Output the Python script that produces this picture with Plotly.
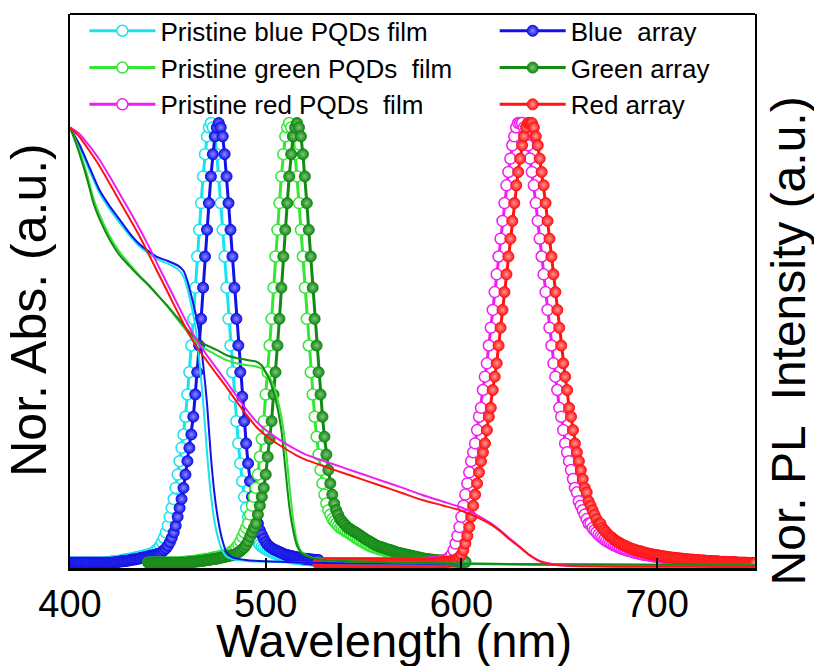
import plotly.graph_objects as go

# ---------------- data ----------------
# PL spectra, 1 nm sampling; start wavelength of each series
blue_pl_start = 400
cyan_pl = [
    .012, .012, .012, .012, .012, .012, .012, .012, .012, .012, .012, .012, .012, .012, .012, .012, .012,
    .012, .012, .013, .013, .014, .015, .015, .016, .016, .017, .018, .019, .019, .020, .021, .022, .023,
    .024, .025, .026, .027, .028, .029, .030, .032,
    .033, .036, .040, .044, .050, .058, .068, .080, .095, .115, .135, .155, .180, .210, .240, .270, .300,
    .340, .390, .440, .500, .560, .630, .700, .760, .820, .880, .930, .970, .990,
    1.00, .99, .97, .93, .88, .82, .76, .70, .63, .56, .50, .44, .385, .33, .28, .235, .195, .16, .135,
    .115, .10, .085, .075, .066, .058, .052, .048, .045, .042, .040, .038, .036, .034, .032, .030, .029,
    .028, .027, .026, .025, .024, .023, .022, .021, .021, .020, .020, .019, .019, .018, .018, .018,
    .017, .017, .017, .016]
blue_pl = [
    .012, .012, .012, .012, .012, .012, .012, .012, .012, .012, .012, .012, .012, .012, .012, .012, .012,
    .012, .012, .012, .012,
    .012, .012, .013, .013, .014, .015, .015, .016, .016, .017, .018, .019, .019, .020, .021, .022, .023,
    .024, .025, .026, .027, .028, .029, .030, .032,
    .033, .036, .040, .044, .050, .058, .068, .080, .095, .115, .135, .155, .180, .210, .240, .270, .300,
    .340, .390, .440, .500, .560, .630, .700, .760, .820, .880, .930, .970, .990,
    1.00, .99, .97, .93, .88, .82, .76, .70, .63, .56, .50, .44, .385, .33, .28, .235, .195, .16, .135,
    .115, .10, .085, .075, .066, .058, .052, .048, .045, .042, .040, .038, .036, .034, .032, .030, .029,
    .028, .027, .026, .025, .024, .023, .022, .021, .021, .020, .020, .019, .019, .018, .018, .018]

green_pl_start = 440
lgreen_pl = [
    .012, .012, .012, .012, .012, .012, .012, .012, .012, .012, .012, .012, .012, .012, .012, .012, .012,
    .013, .013, .014, .014, .015, .015, .016, .016, .017, .018, .018, .019, .020, .020, .021,
    .022, .023, .024, .025, .026, .027, .028, .029, .030, .032,
    .035, .038, .042, .046, .052, .060, .070, .080, .090, .100, .120, .140, .160, .180, .210, .250, .290,
    .330, .390, .440, .500, .560, .630, .700, .760, .820, .880, .930, .970, .990,
    1.00, .99, .97, .93, .88, .82, .76, .70, .63, .56,
    .50, .44, .39, .34, .295, .255, .22, .19, .165, .145,
    .13, .12, .11, .105, .10, .095, .09, .088, .085, .082,
    .08, .077, .074, .071, .068, .065, .062, .06, .057, .055,
    .052, .05, .048, .047, .045, .044, .042, .041, .04, .038,
    .037, .035, .034, .033, .032, .031, .03, .029, .028, .027,
    .026, .025, .024, .023, .022, .021, .02, .02, .019, .019,
    .018, .018, .017, .017, .017, .016, .016, .016, .015, .015,
    .015, .015, .014, .014, .014, .014, .014, .013, .013, .013, .013]
dgreen_pl = [
    .012, .012, .012, .012, .012, .012, .012, .012, .012, .012, .012, .012, .012, .012, .012, .012, .012,
    .012, .012, .012, .012,
    .013, .013, .014, .014, .015, .015, .016, .016, .017, .018, .018, .019, .020, .020, .021,
    .022, .023, .024, .025, .026, .027, .028, .029, .030, .032,
    .035, .038, .042, .046, .052, .060, .070, .080, .090, .100, .120, .140, .160, .180, .210, .250, .290,
    .330, .390, .440, .500, .560, .630, .700, .760, .820, .880, .930, .970, .990,
    1.00, .99, .97, .93, .88, .82, .76, .70, .63, .56,
    .50, .44, .39, .34, .295, .255, .22, .19, .165, .145,
    .13, .12, .11, .105, .10, .095, .09, .088, .085, .082,
    .08, .077, .074, .071, .068, .065, .062, .06, .057, .055,
    .052, .05, .048, .047, .045, .044, .042, .041, .04, .038,
    .037, .035, .034, .033, .032, .031, .03, .029, .028, .027,
    .026, .025, .024, .023, .022, .021, .02, .02, .019, .019,
    .018, .018, .017, .017, .017, .016, .016, .016, .015, .015,
    .015, .015, .014, .014, .014, .014, .014]

red_pl_start = 527
magenta_pl = [
    .01, .01, .01, .01, .01, .01, .01, .01, .01, .01, .01, .01, .01, .01, .01, .01, .01, .01,
    .01, .01, .01, .01, .01, .01, .01, .01, .01, .01, .01, .01, .01, .01, .01, .01, .01, .01,
    .01, .01, .01, .01, .01, .01, .01, .01, .01, .01, .01, .01, .01, .01, .01, .01, .01, .01,
    .011, .011, .012, .012, .013, .013, .014, .014, .015,
    .016, .017, .018, .021, .025, .03, .04, .055, .072, .092, .115, .14, .165, .19, .215, .24, .26,
    .28, .31, .34, .36, .40, .43, .46, .50, .54, .58, .62, .66, .70, .74, .78, .82, .86, .89, .92,
    .95, .97, .99, 1.00,
    1.00, 1.00, .99, .97, .95, .92, .89, .86, .82, .78,
    .74, .70, .66, .62, .58, .54, .50, .46, .43, .40,
    .36, .34, .31, .28, .26, .24, .22, .20, .18, .17,
    .15, .14, .13, .12, .11, .10, .10, .09, .085, .08,
    .075, .071, .068, .064, .061, .058, .056, .053, .051, .049,
    .047, .045, .043, .042, .040, .039, .038, .037, .035, .034,
    .033, .032, .031, .030, .029, .029, .028, .027, .026, .026,
    .025, .024, .024, .023, .023, .022, .022, .021, .021, .020,
    .020, .019, .019, .019, .018, .018, .018, .017, .017, .017,
    .016, .016, .016, .015, .015, .015, .015, .014, .014, .014,
    .014, .013, .013, .013, .013, .013, .012, .012, .012, .012,
    .012, .011, .011, .011, .011, .011, .011, .010, .010, .010, .010]
red_pl = [
    .01, .01, .01, .01, .01, .01, .01, .01, .01, .01, .01, .01, .01, .01, .01, .01, .01, .01,
    .01, .01, .01, .01, .01, .01, .01, .01, .01, .01, .01, .01, .01, .01, .01, .01, .01, .01,
    .01, .01, .01, .01, .01, .01, .01, .01, .01, .01, .01, .01, .01, .01, .01, .01, .01, .01,
    .01, .01, .01, .01, .01,
    .011, .011, .012, .012, .013, .013, .014, .014, .015,
    .016, .017, .018, .021, .025, .03, .04, .055, .072, .092, .115, .14, .165, .19, .215, .24, .26,
    .28, .31, .34, .36, .40, .43, .46, .50, .54, .58, .62, .66, .70, .74, .78, .82, .86, .89, .92,
    .95, .97, .99, 1.00,
    1.00, 1.00, .99, .97, .95, .92, .89, .86, .82, .78,
    .74, .70, .66, .62, .58, .54, .50, .46, .43, .40,
    .36, .34, .31, .28, .26, .24, .22, .20, .18, .17,
    .15, .14, .13, .12, .11, .10, .10, .09, .085, .08,
    .075, .071, .068, .064, .061, .058, .056, .053, .051, .049,
    .047, .045, .043, .042, .040, .039, .038, .037, .035, .034,
    .033, .032, .031, .030, .029, .029, .028, .027, .026, .026,
    .025, .024, .024, .023, .023, .022, .022, .021, .021, .020,
    .020, .019, .019, .019, .018, .018, .018, .017, .017, .017,
    .016, .016, .016, .015, .015, .015, .015, .014, .014, .014,
    .014, .013, .013, .013, .013, .013, .012, .012, .012, .012,
    .012, .011, .011, .011, .011, .011]

# absorption spectra (thin lines)
abs_blue_x = [400, 405, 410, 415, 420, 425, 430, 435, 440, 445, 450, 455, 458, 460, 462, 464, 466, 468,
              470, 472, 474, 476, 478, 480, 483, 490, 500, 520, 560, 650, 750]
abs_blue_y = [.99, .95, .90, .85, .815, .785, .755, .73, .712, .698, .69, .68, .668, .645, .612, .575, .53,
              .46, .37, .25, .16, .10, .06, .035, .024, .018, .015, .012, .01, .008, .006]
abs_cyan_y = [.99, .945, .893, .843, .808, .778, .75, .725, .707, .693, .684, .672, .655, .628, .59, .545,
              .47, .375, .26, .165, .10, .062, .037, .026, .02, .016, .014, .012, .01, .008, .006]
abs_green_x = [400, 403, 406, 409, 412, 415, 420, 425, 430, 435, 440, 445, 450, 455, 460, 465, 470, 475,
               480, 485, 490, 495, 498, 500, 502, 504, 506, 508, 510, 512, 514, 516, 518, 522, 530, 550,
               600, 650, 750]
abs_dgreen_y = [.99, .955, .915, .87, .82, .785, .74, .705, .68, .657, .636, .612, .588, .562, .535, .512,
                .50, .49, .478, .472, .468, .464, .455, .44, .422, .395, .36, .31, .225, .14, .085, .05,
                .035, .025, .018, .014, .01, .008, .006]
abs_lgreen_y = [.99, .96, .922, .88, .83, .795, .748, .712, .685, .66, .637, .612, .586, .558, .53, .505,
                .49, .478, .467, .46, .456, .453, .448, .44, .428, .41, .38, .34, .28, .19, .11, .06,
                .038, .026, .018, .014, .01, .008, .006]
abs_red_x = [400, 405, 410, 415, 420, 425, 430, 435, 440, 445, 450, 455, 460, 465, 470, 475, 480, 485,
             490, 495, 500, 505, 510, 515, 520, 530, 540, 550, 560, 570, 580, 590, 600, 605, 610, 615,
             620, 625, 630, 635, 640, 645, 650, 660, 680, 750]
abs_red_y = [.99, .968, .937, .904, .866, .827, .789, .75, .707, .663, .619, .575, .532, .495, .465, .435,
             .406, .375, .345, .318, .298, .282, .268, .255, .244, .228, .213, .198, .183, .168, .153,
             .141, .129, .12, .11, .098, .082, .063, .046, .028, .015, .009, .006, .004, .003, .003]
abs_magenta_y = [.99, .975, .948, .918, .882, .844, .806, .767, .725, .68, .636, .592, .549, .51, .478,
                 .448, .418, .387, .357, .33, .31, .294, .28, .267, .256, .24, .225, .21, .195, .18, .164,
                 .15, .136, .126, .114, .101, .084, .065, .047, .029, .016, .01, .007, .005, .004, .003]

x_ticks = [400, 500, 600, 700]
legend_names = ["Pristine blue PQDs film", "Pristine green PQDs  film", "Pristine red PQDs  film",
                "Blue  array", "Green array", "Red array"]

# ---------------- styling ----------------
C_CYAN, C_BLUE = "#19E3EF", "#1212E6"
C_LGREEN, C_DGREEN = "#35E635", "#138A13"
C_MAG, C_RED = "#F01EF0", "#FF1414"
FONT = "Liberation Sans, Arial, sans-serif"


def grid(start, vals):
    return list(range(start, start + len(vals)))


fig = go.Figure()


def pristine(x, y, color, name):
    fig.add_trace(go.Scatter(
        x=x, y=y, mode="lines+markers", name=name, legend="legend",
        line=dict(color=color, width=3),
        marker=dict(symbol="circle", size=11, color="white", line=dict(color=color, width=1.5))))


def array(x, y, color, light, name):
    fig.add_trace(go.Scatter(
        x=x, y=y, mode="lines+markers", name=name, legend="legend2",
        line=dict(color=color, width=3),
        marker=dict(symbol="circle", size=11, color=color,
                    gradient=dict(type="radial", color=light),
                    line=dict(color=color, width=1))))


pristine(grid(blue_pl_start, cyan_pl), cyan_pl, C_CYAN, legend_names[0])
array(grid(blue_pl_start, blue_pl), blue_pl, C_BLUE, "#8C8CFF", legend_names[3])
pristine(grid(green_pl_start, lgreen_pl), lgreen_pl, C_LGREEN, legend_names[1])
array(grid(green_pl_start, dgreen_pl), dgreen_pl, C_DGREEN, "#7FC47F", legend_names[4])
pristine(grid(red_pl_start, magenta_pl), magenta_pl, C_MAG, legend_names[2])
array(grid(red_pl_start, red_pl), red_pl, C_RED, "#FF9A9A", legend_names[5])

for xs, ys, col in [(abs_blue_x, abs_cyan_y, C_CYAN), (abs_blue_x, abs_blue_y, C_BLUE),
                    (abs_green_x, abs_lgreen_y, C_LGREEN), (abs_green_x, abs_dgreen_y, C_DGREEN),
                    (abs_red_x, abs_magenta_y, C_MAG), (abs_red_x, abs_red_y, C_RED)]:
    fig.add_trace(go.Scatter(x=xs, y=ys, mode="lines", showlegend=False, hoverinfo="skip",
                             line=dict(color=col, width=2, shape="spline", smoothing=0.6)))

legend_common = dict(y=1.012, xanchor="left", yanchor="top", bgcolor="rgba(0,0,0,0)",
                     font=dict(family=FONT, size=26, color="black"), itemwidth=66,
                     tracegroupgap=0, borderwidth=0)

fig.update_layout(
    width=814, height=666,
    margin=dict(l=70, r=59, t=14, b=98, autoexpand=False),
    paper_bgcolor="white", plot_bgcolor="white",
    font=dict(family=FONT, color="black"),
    legend=dict(x=0.021, **legend_common),
    legend2=dict(x=0.62, **legend_common),
    xaxis=dict(range=[400, 750], tickvals=x_ticks, ticks="inside", ticklen=10, tickwidth=2,
               tickcolor="black", showline=True, linewidth=3, linecolor="black",
               showgrid=False, zeroline=False, tickfont=dict(family=FONT, size=38)),
    yaxis=dict(range=[0, 1.245], showticklabels=False, ticks="", showline=True, linewidth=2,
               linecolor="black", mirror=True, showgrid=False, zeroline=False),
    shapes=[dict(type="line", xref="paper", yref="paper", x0=0, x1=1, y0=1, y1=1,
                 line=dict(color="black", width=2))],
    annotations=[
        dict(text="Wavelength (nm)", xref="paper", yref="paper", x=0.473, y=-0.13,
             xanchor="center", yanchor="middle", showarrow=False,
             font=dict(family=FONT, size=47)),
        dict(text="Nor. Abs. (a.u.)", xref="paper", yref="paper", x=-0.06, y=0.466,
             xanchor="center", yanchor="middle", showarrow=False, textangle=-90,
             font=dict(family=FONT, size=50)),
        dict(text="Nor. PL  Intensity (a.u.)", xref="paper", yref="paper", x=1.049, y=0.41,
             xanchor="center", yanchor="middle", showarrow=False, textangle=-90,
             font=dict(family=FONT, size=48)),
    ],
)

fig.write_html("out.html")
